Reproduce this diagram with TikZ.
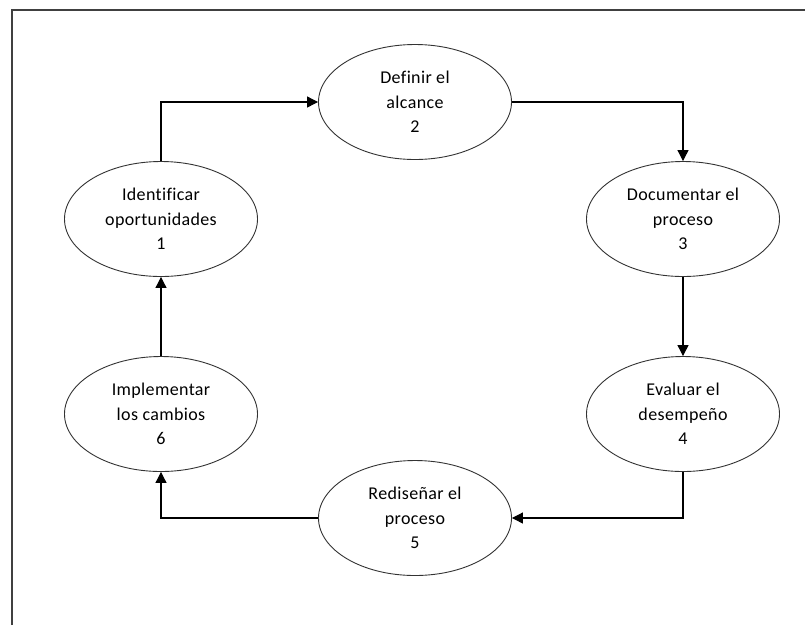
\documentclass[tikz,border=0pt]{standalone}
\usepackage{fontspec}
\setmainfont[Ligatures=NoCommon, LetterSpace=2]{Carlito}
\usetikzlibrary{shapes.geometric, arrows.meta}

\begin{document}
\begin{tikzpicture}[x=1pt, y=-1pt,
		etapa/.style={draw=black!80, ellipse, line width=.9pt, minimum width=193pt, minimum height=115pt, inner sep=0pt, align=center, font=\fontsize{18}{24.5}\selectfont},
		flecha/.style={line width=1.1pt, -{Triangle[length=11pt, width=11pt]}}]
		\useasboundingbox (0, 0) rectangle (805, 625);
		\draw[line width=1.6pt, black!75] (12, 625) -- (12, 10) -- (805, 10);

		\node[etapa] (e1) at (161, 219) {Identificar\\oportunidades\\1};
		\node[etapa] (e2) at (415, 102) {Definir el\\alcance\\2};
		\node[etapa] (e3) at (683, 219) {Documentar el\\proceso\\3};
		\node[etapa] (e4) at (683, 414) {Evaluar el\\desempeño\\4};
		\node[etapa] (e5) at (415, 518) {Rediseñar el\\proceso\\5};
		\node[etapa] (e6) at (161, 414) {Implementar\\los cambios\\6};

		\draw[flecha] (e1.north) |- (e2.west);
		\draw[flecha] (e2.east) -| (e3.north);
		\draw[flecha] (e3.south) -- (e4.north);
		\draw[flecha] (e4.south) |- (e5.east);
		\draw[flecha] (e5.west) -| (e6.south);
		\draw[flecha] (e6.north) -- (e1.south);
	\end{tikzpicture}
\end{document}
